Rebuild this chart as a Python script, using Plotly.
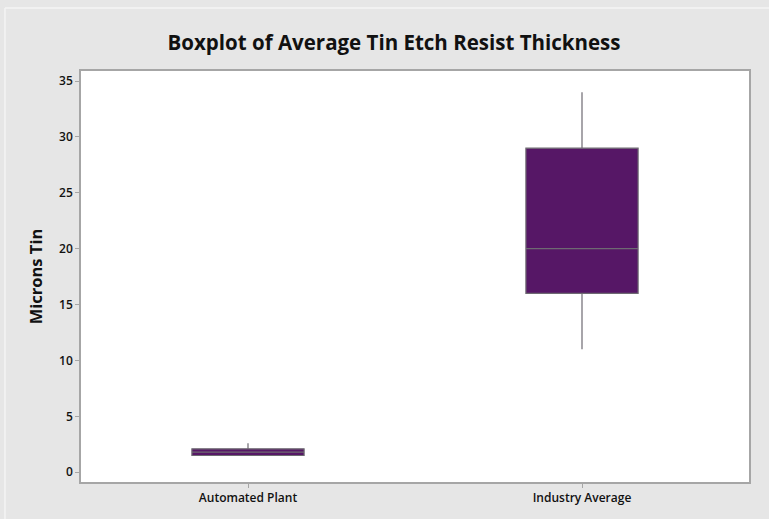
import plotly.graph_objects as go

categories = ["Automated Plant", "Industry Average"]
q1_vals = [1.5, 16]
median_vals = [1.8, 20]
q3_vals = [2.1, 29]
lower_vals = [1.5, 11]
upper_vals = [2.6, 34]
y_ticks = [0, 5, 10, 15, 20, 25, 30, 35]

fig = go.Figure()
fig.add_trace(go.Box(
    x=categories,
    q1=q1_vals, median=median_vals, q3=q3_vals,
    lowerfence=lower_vals, upperfence=upper_vals,
    fillcolor="#561766",
    line=dict(color="#6e6a72", width=1.2),
    whiskerwidth=0,
    width=0.336,
    boxpoints=False,
    hoverinfo="skip",
    showlegend=False,
))

axis_font = dict(family="Open Sans, Noto Sans, sans-serif", size=12, color="#111", weight=600)

fig.update_layout(
    width=769, height=519,
    margin=dict(l=81, r=20, t=71, b=37),
    paper_bgcolor="#e6e6e6",
    plot_bgcolor="white",
    title=dict(text="<b>Boxplot of Average Tin Etch Resist Thickness</b>",
               x=394/769, xanchor="center", y=1-43/519, yanchor="middle",
               font=dict(family="Open Sans, Noto Sans, sans-serif", size=20.5, color="#111")),
    xaxis=dict(range=[-0.5, 1.5], showgrid=False, zeroline=False,
               showline=True, linecolor="#a6a6a6", linewidth=1.5, mirror=True,
               ticks="outside", ticklen=4, tickcolor="#a6a6a6",
               tickfont=axis_font, fixedrange=True),
    yaxis=dict(range=[-0.87, 35.9], tickvals=y_ticks, showgrid=False, zeroline=False,
               showline=True, linecolor="#a6a6a6", linewidth=1.5, mirror=True,
               ticks="outside", ticklen=4, tickcolor="#a6a6a6",
               tickfont=axis_font,
               title=dict(text="<b>Microns Tin</b>", standoff=12,
                          font=dict(family="Open Sans, Noto Sans, sans-serif", size=16.5, color="#111"))),
    shapes=[
        dict(type="line", xref="paper", yref="paper", x0=-0.1138, x1=-0.1138, y0=-0.2, y1=1.153,
             line=dict(color="#f5f5f5", width=1.5)),
        dict(type="line", xref="paper", yref="paper", x0=-0.1138, x1=1.2, y0=1.153, y1=1.153,
             line=dict(color="#f5f5f5", width=1.5)),
    ],
)

fig.write_html("out.html", config={"displayModeBar": False},
               post_script="document.body.style.margin='0';document.body.style.padding='0';")
